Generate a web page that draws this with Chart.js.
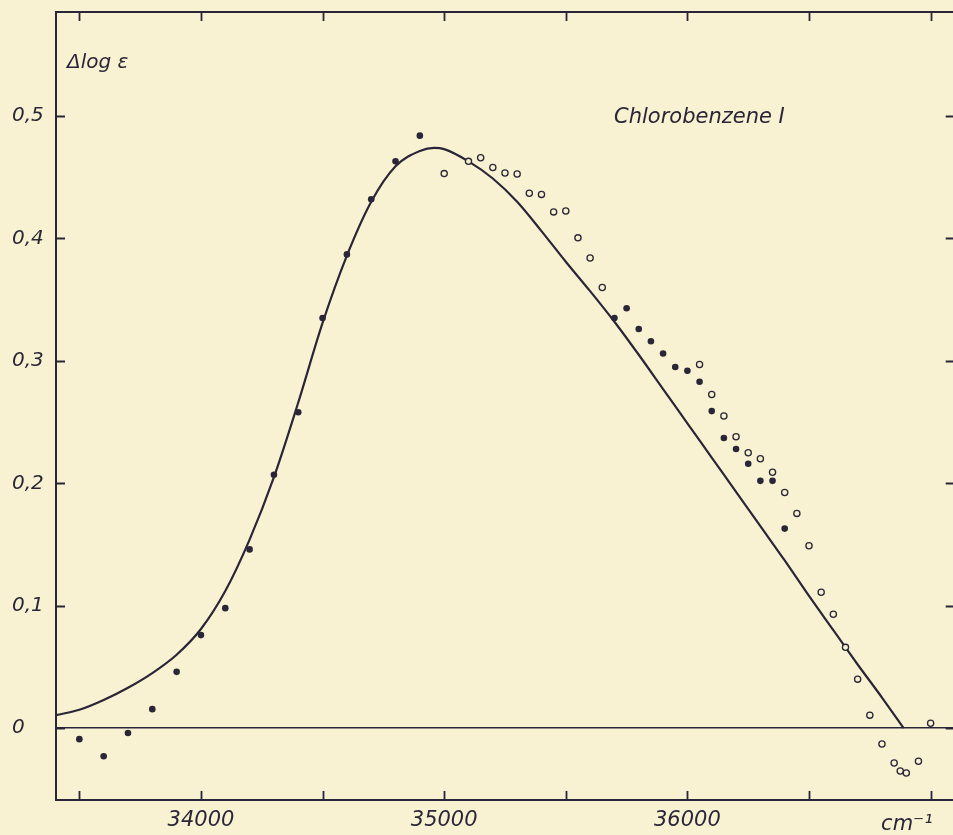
<!DOCTYPE html>
<html>
<head>
<meta charset="utf-8">
<title>Chlorobenzene I</title>
<script src="https://cdn.jsdelivr.net/npm/chart.js@4.4.1/dist/chart.umd.min.js"></script>
<style>
  html, body { margin: 0; padding: 0; overflow: hidden; background: #f8f2d2; }
  canvas { display: block; }
</style>
</head>
<body>
<canvas id="chart" width="960" height="835" style="width:960px;height:835px"></canvas>
<script>
// Wavenumber grid (cm^-1) of the smooth difference curve and its Δlog ε values
const curveX = [33404, 33500, 33600, 33700, 33800, 33900, 34000, 34100, 34200, 34300,
  34400, 34500, 34600, 34700, 34800, 34900, 34960, 35000, 35100, 35200, 35300, 35400,
  35500, 35600, 35700, 35800, 35900, 36000, 36100, 36200, 36300, 36400, 36500, 36600,
  36700, 36800, 36889];
const curveY = [0.0106, 0.015, 0.023, 0.033, 0.045, 0.060, 0.081, 0.112, 0.154, 0.205,
  0.266, 0.331, 0.386, 0.430, 0.459, 0.4715, 0.474, 0.473, 0.463, 0.449, 0.430, 0.406,
  0.381, 0.357, 0.332, 0.305, 0.277, 0.249, 0.221, 0.193, 0.165, 0.137, 0.108, 0.080,
  0.052, 0.025, 0.0];

// Measured points, first set (filled dots)
const filledX = [33500, 33600, 33700, 33800, 33900, 34000, 34100, 34200, 34300, 34400,
  34500, 34600, 34700, 34800, 34900, 35700, 35750, 35800, 35850, 35900, 35950, 36000,
  36050, 36100, 36150, 36200, 36250, 36300, 36350, 36400];
const filledY = [-0.009, -0.023, -0.004, 0.0155, 0.046, 0.076, 0.098, 0.146, 0.207, 0.258,
  0.335, 0.387, 0.432, 0.463, 0.484, 0.335, 0.343, 0.326, 0.316, 0.306, 0.295, 0.292,
  0.283, 0.259, 0.237, 0.228, 0.216, 0.202, 0.202, 0.163];

// Measured points, second set (open circles)
const openX = [35000, 35100, 35150, 35200, 35250, 35300, 35350, 35400, 35450, 35500,
  35550, 35600, 35650, 36050, 36100, 36150, 36200, 36250, 36300, 36350, 36400, 36450,
  36500, 36550, 36600, 36650, 36700, 36750, 36800, 36850, 36875, 36900, 36950, 37000];
const openY = [0.453, 0.463, 0.466, 0.458, 0.4535, 0.4527, 0.437, 0.436, 0.4217, 0.4225,
  0.4005, 0.384, 0.360, 0.297, 0.2725, 0.255, 0.238, 0.225, 0.220, 0.209, 0.1925, 0.1754,
  0.149, 0.111, 0.093, 0.066, 0.040, 0.0106, -0.013, -0.0285, -0.035, -0.0367, -0.027, 0.004];

// Axis ticks and their labels
const xTickValues = [33500, 34000, 34500, 35000, 35500, 36000, 36500, 37000];
const xTickLabels = ['', '34000', '', '35000', '', '36000', '', ''];
const yTickValues = [0, 0.1, 0.2, 0.3, 0.4, 0.5];
const yTickLabels = ['0', '0,1', '0,2', '0,3', '0,4', '0,5'];
const unitLabel = 'cm\u207B\u00B9';
const yAxisTitle = '\u0394log \u03B5';
const curveTitle = 'Chlorobenzene I';

const X_MIN = 33404, X_MAX = 37099;
const Y_MIN = -0.0587, Y_MAX = 0.585;

const INK = '#2a2637';
const PAPER = '#f8f2d2';
const FONT = '"DejaVu Sans", sans-serif';

const toPoints = (xs, ys) => xs.map((x, i) => ({ x: x, y: ys[i] }));

// Frame, inward ticks on all four sides, and the text annotations
const framePlugin = {
  id: 'frame',
  beforeDraw(chart) {
    const c = chart.ctx;
    c.save();
    c.fillStyle = PAPER;
    c.fillRect(0, 0, chart.width, chart.height);
    c.restore();
  },
  afterDraw(chart) {
    const c = chart.ctx;
    const a = chart.chartArea;
    const xs = chart.scales.x, ys = chart.scales.y;
    const T = 9;
    c.save();
    c.strokeStyle = INK;
    c.lineWidth = 2;
    c.strokeRect(a.left, a.top, a.right - a.left, a.bottom - a.top);
    c.lineWidth = 1.8;
    c.beginPath();
    xTickValues.forEach(v => {
      const px = Math.round(xs.getPixelForValue(v)) + 0.5;
      c.moveTo(px, a.bottom); c.lineTo(px, a.bottom - T);
      c.moveTo(px, a.top); c.lineTo(px, a.top + T);
    });
    yTickValues.forEach(v => {
      const py = Math.round(ys.getPixelForValue(v)) + 0.5;
      c.moveTo(a.left, py); c.lineTo(a.left + T, py);
      c.moveTo(a.right, py); c.lineTo(a.right - T, py);
    });
    c.stroke();

    c.fillStyle = INK;
    c.textBaseline = 'alphabetic';
    c.font = 'italic 21px ' + FONT;
    c.textAlign = 'right';
    c.fillText(unitLabel, xs.getPixelForValue(37000) + 2, 830);
    c.textAlign = 'left';
    c.font = 'italic 20px ' + FONT;
    c.fillText(yAxisTitle, 67, 68);
    c.font = 'italic 21px ' + FONT;
    c.fillText(curveTitle, 614, 123);
    c.restore();
  }
};

new Chart(document.getElementById('chart'), {
  type: 'scatter',
  data: {
    datasets: [
      {
        label: 'curve',
        data: toPoints(curveX, curveY),
        showLine: true,
        cubicInterpolationMode: 'monotone',
        borderColor: INK,
        borderWidth: 2.2,
        pointRadius: 0,
        fill: false,
        order: 3
      },
      {
        label: 'filled',
        data: toPoints(filledX, filledY),
        pointRadius: 3.3,
        pointBackgroundColor: INK,
        pointBorderWidth: 0,
        order: 2
      },
      {
        label: 'open',
        data: toPoints(openX, openY),
        pointRadius: 3.1,
        pointBackgroundColor: PAPER,
        pointBorderColor: INK,
        pointBorderWidth: 1.3,
        order: 1
      }
    ]
  },
  options: {
    responsive: false,
    animation: false,
    devicePixelRatio: 1,
    layout: { padding: { left: 12, top: 11, right: 4, bottom: 0 } },
    plugins: { legend: { display: false }, tooltip: { enabled: false } },
    scales: {
      x: {
        type: 'linear',
        min: X_MIN,
        max: X_MAX,
        afterFit: s => { s.height = 35; },
        afterBuildTicks: s => { s.ticks = xTickValues.map(v => ({ value: v })); },
        border: { display: false },
        grid: { display: false, drawTicks: false },
        ticks: {
          autoSkip: false,
          maxRotation: 0,
          padding: 8,
          color: INK,
          font: { family: FONT, size: 21, style: 'italic' },
          callback: (v, i) => xTickLabels[i]
        }
      },
      y: {
        type: 'linear',
        min: Y_MIN,
        max: Y_MAX,
        afterFit: s => { s.width = 44; },
        afterBuildTicks: s => { s.ticks = yTickValues.map(v => ({ value: v })); },
        border: { display: false },
        grid: {
          drawTicks: false,
          lineWidth: 1.6,
          color: ctx => (ctx.tick && Math.abs(ctx.tick.value) < 1e-9) ? INK : 'rgba(0,0,0,0)'
        },
        ticks: {
          autoSkip: false,
          crossAlign: 'far',
          padding: 0,
          color: INK,
          font: { family: FONT, size: 20, style: 'italic' },
          callback: (v, i) => yTickLabels[i]
        }
      }
    }
  },
  plugins: [framePlugin]
});
</script>
</body>
</html>
